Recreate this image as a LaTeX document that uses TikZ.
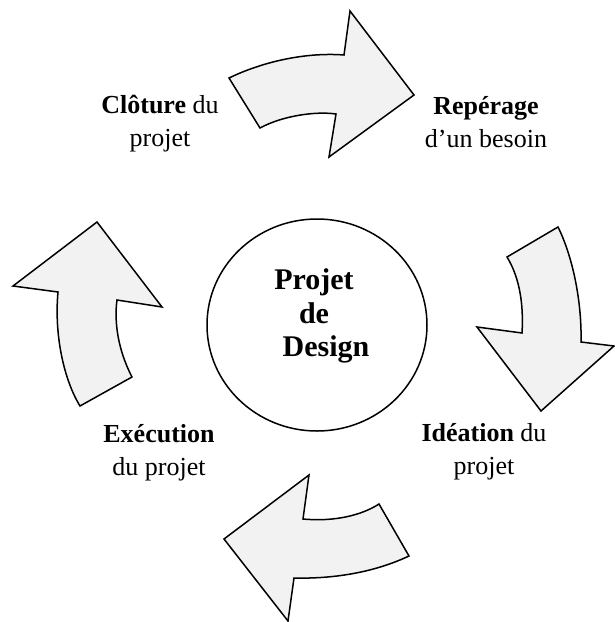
\documentclass[tikz,border=0pt]{standalone}
\usepackage{fontspec}
\setmainfont{Liberation Serif}
\usetikzlibrary{positioning}
\definecolor{arrowgray}{HTML}{F2F2F2}
\tikzset{bigarrow/.style={draw=black,fill=arrowgray,line width=1.5pt,line join=miter},
stagetext/.style={align=center,inner sep=0pt,font=\fontsize{26}{33}\selectfont}}

\begin{document}
\begin{tikzpicture}[x=1pt,y=-1pt]
\useasboundingbox (0,0) rectangle (615,622);

% the four bent arrows
\draw[bigarrow] (229,78) .. controls (262,62) and (305,52) .. (344,55) -- (350,11) -- (414,95)
  -- (329,157) -- (336,114) .. controls (315,111) and (282,116) .. (260,128) -- cycle;
\draw[bigarrow] (507,257) -- (558,227) .. controls (572,255) and (582,300) .. (581,342) -- (614,346)
  -- (541,411) -- (477,327) -- (522,333) .. controls (524,300) and (518,275) .. (507,257) -- cycle;
\draw[bigarrow] (379,504) -- (409,556) .. controls (375,572) and (335,579) .. (294,578) -- (288,621)
  -- (224,539) -- (309,475) -- (303,519) .. controls (335,522) and (362,515) .. (379,504) -- cycle;
\draw[bigarrow] (80,406) -- (132,377) .. controls (118,350) and (114,322) .. (117,300) -- (162,307)
  -- (97,222) -- (13,286) -- (58,292) .. controls (54,335) and (64,380) .. (80,406) -- cycle;

% centre
\draw[line width=1.5pt] (317,325) ellipse [x radius=110, y radius=106];
\node (projet) at (314,316) [align=center,inner sep=0pt,font=\fontsize{30}{33.5}\selectfont\bfseries]
  {Projet\\de\\\hspace*{0.8em}Design};

% stages
\node (cloture) at (160,124) [stagetext] {\textbf{Clôture} du\\projet};
\node (reperage) at (486,122) [stagetext] {\textbf{Repérage}\\d’un besoin};
\node (ideation) at (484,452) [stagetext] {\textbf{Idéation} du\\projet};
\node (execution) at (159,453) [stagetext] {\textbf{Exécution}\\du projet};
\end{tikzpicture}
\end{document}
